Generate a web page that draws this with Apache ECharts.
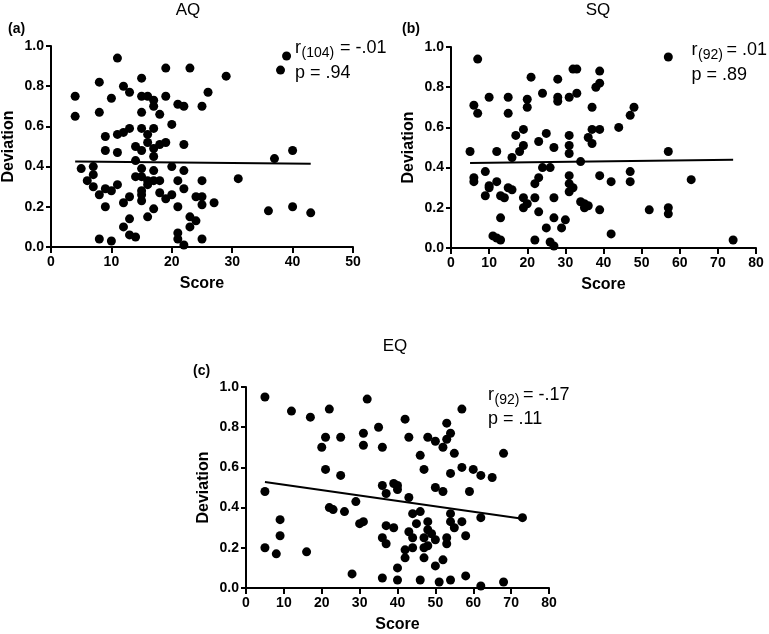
<!DOCTYPE html>
<html>
<head>
<meta charset="utf-8">
<script src="https://cdn.jsdelivr.net/npm/echarts/dist/echarts.min.js"></script>
<style>
html,body{margin:0;padding:0;background:#fff;}
#chart{width:769px;height:634px;}
</style>
</head>
<body>
<div id="chart"></div>
<script>
// ---- data ----
const aqPoints = [
[4,0.75],[4,0.65],[5,0.39],[6,0.33],[7,0.40],[7,0.36],[7,0.30],
[8,0.82],[8,0.67],[8,0.26],[8,0.04],[9,0.55],[9,0.48],[9,0.29],[9,0.20],
[10,0.74],[10,0.28],[10,0.03],[11,0.94],[11,0.56],[11,0.47],[11,0.31],
[12,0.80],[12,0.57],[12,0.22],[12,0.10],[13,0.77],[13,0.59],[13,0.25],[13,0.14],[13,0.06],
[14,0.50],[14,0.43],[14,0.35],[14,0.05],
[15,0.84],[15,0.75],[15,0.67],[15,0.59],[15,0.48],[15,0.39],[15,0.35],[15,0.28],[15,0.26],[15,0.23],
[16,0.75],[16,0.56],[16,0.52],[16,0.33],[16,0.31],[16,0.15],
[17,0.73],[17,0.70],[17,0.59],[17,0.49],[17,0.45],[17,0.38],[17,0.33],[17,0.19],
[18,0.66],[18,0.51],[18,0.33],[18,0.27],[19,0.89],[19,0.75],[19,0.52],[19,0.24],
[20,0.61],[20,0.40],[20,0.26],[21,0.71],[21,0.33],[21,0.20],[21,0.07],[21,0.04],
[22,0.70],[22,0.51],[22,0.38],[22,0.29],[22,0.01],[23,0.89],[23,0.15],[23,0.10],
[24,0.25],[24,0.13],[25,0.70],[25,0.33],[25,0.25],[25,0.21],[25,0.04],
[26,0.77],[27,0.22],[29,0.85],[31,0.34],[36,0.18],[37,0.44],[38,0.88],[39,0.95],
[40,0.48],[40,0.20],[43,0.17]
];
const sqPoints = [
[5,0.48],[6,0.71],[6,0.35],[6,0.33],[7,0.94],[7,0.67],[9,0.38],[9,0.26],
[10,0.75],[10,0.31],[10,0.30],[11,0.06],[12,0.48],[12,0.33],[12,0.05],
[13,0.04],[13,0.15],[13,0.26],[14,0.25],[15,0.75],[15,0.67],[15,0.30],
[16,0.45],[16,0.29],[17,0.56],[18,0.48],[19,0.59],[19,0.51],[19,0.25],[19,0.20],
[20,0.74],[20,0.70],[20,0.22],[21,0.85],[22,0.25],[22,0.32],[22,0.04],
[23,0.53],[23,0.35],[23,0.18],[24,0.77],[24,0.40],[25,0.57],[25,0.10],
[26,0.40],[26,0.03],[27,0.01],[27,0.50],[27,0.25],[27,0.15],
[28,0.84],[28,0.75],[28,0.73],[29,0.10],[30,0.14],
[31,0.75],[31,0.56],[31,0.51],[31,0.47],[31,0.36],[31,0.32],[31,0.28],
[32,0.89],[32,0.30],[33,0.89],[33,0.77],[34,0.43],[34,0.23],[35,0.22],[35,0.20],
[36,0.55],[36,0.21],[37,0.70],[37,0.59],[37,0.52],[38,0.80],
[39,0.88],[39,0.82],[39,0.59],[39,0.36],[39,0.19],[42,0.33],[42,0.07],[44,0.60],
[47,0.66],[47,0.38],[47,0.33],[48,0.70],[52,0.19],
[57,0.95],[57,0.48],[57,0.20],[57,0.17],[63,0.34],[74,0.04]
];
const eqPoints = [
[5,0.95],[5,0.48],[5,0.20],[8,0.17],[9,0.34],[9,0.26],[12,0.88],[16,0.18],[17,0.85],
[20,0.70],[21,0.75],[21,0.59],[22,0.89],[22,0.40],[23,0.39],[25,0.75],[25,0.56],[26,0.38],
[28,0.07],[29,0.43],[30,0.32],[31,0.77],[31,0.71],[31,0.33],[32,0.94],[35,0.80],
[36,0.70],[36,0.51],[36,0.25],[36,0.05],[37,0.47],[37,0.31],[37,0.22],
[39,0.52],[39,0.30],[40,0.51],[40,0.49],[40,0.10],[40,0.04],
[42,0.84],[42,0.19],[42,0.15],[43,0.75],[43,0.45],[43,0.28],[44,0.37],[44,0.25],[44,0.20],
[45,0.32],[46,0.66],[46,0.38],[46,0.04],[47,0.59],[47,0.25],[47,0.20],[47,0.15],
[48,0.75],[48,0.33],[48,0.29],[48,0.21],[49,0.27],[50,0.73],[50,0.50],[50,0.24],[50,0.11],
[51,0.03],[52,0.70],[52,0.48],[52,0.14],[53,0.82],[53,0.74],[53,0.25],[53,0.22],
[54,0.77],[54,0.57],[54,0.37],[54,0.33],[54,0.04],[55,0.67],[55,0.30],
[57,0.89],[57,0.60],[57,0.33],[58,0.26],[58,0.06],[59,0.48],[60,0.59],
[62,0.56],[62,0.35],[62,0.01],[65,0.55],[68,0.67],[68,0.03],[73,0.35]
];
// fitted lines (end points)
const aqFit = [[4,0.425],[43,0.414]];
const sqFit = [[5,0.423],[74,0.439]];
const eqFit = [[5,0.527],[73,0.345]];
// axis ranges / ticks
const aqXMax = 50, sqXMax = 80, eqXMax = 80, xStep = 10;
const yMin = 0, yMax = 1, yStep = 0.2;
const panelTitles = ['AQ','SQ','EQ'];
const panelTags = ['(a)','(b)','(c)'];

const FONT = "'Liberation Sans', Arial, Helvetica, sans-serif";
const chart = echarts.init(document.getElementById('chart'), null, {renderer:'canvas'});

const grids = [
  {left:51, top:46, width:302, height:201},
  {left:451, top:47, width:305, height:201},
  {left:246, top:387, width:303, height:202}
];
const xMaxes = [aqXMax, sqXMax, eqXMax];

function xAxisFor(i){
  return {
    type:'value', gridIndex:i, min:0, max:xMaxes[i], interval:xStep,
    name:'Score', nameLocation:'middle', nameGap:29,
    nameTextStyle:{fontFamily:FONT, fontWeight:'bold', fontSize:16, color:'#000'},
    axisLine:{show:true, onZero:false, lineStyle:{color:'#000', width:2}},
    axisTick:{show:true, inside:false, length:6, lineStyle:{color:'#000', width:2}},
    axisLabel:{fontFamily:FONT, fontWeight:'bold', fontSize:14, color:'#000', margin:8},
    splitLine:{show:false}
  };
}
function yAxisFor(i){
  return {
    type:'value', gridIndex:i, min:yMin, max:yMax, interval:yStep,
    name:'Deviation', nameLocation:'middle', nameGap:34, nameRotate:90,
    nameTextStyle:{fontFamily:FONT, fontWeight:'bold', fontSize:16, color:'#000'},
    axisLine:{show:true, onZero:false, lineStyle:{color:'#000', width:2}},
    axisTick:{show:true, inside:false, length:5, lineStyle:{color:'#000', width:2}},
    axisLabel:{fontFamily:FONT, fontWeight:'bold', fontSize:14, color:'#000', margin:7,
      formatter:v=>v.toFixed(1)},
    splitLine:{show:false}
  };
}
function scatter(i, pts){
  return {type:'scatter', xAxisIndex:i, yAxisIndex:i, data:pts, symbol:'circle', symbolSize:9,
    itemStyle:{color:'#000', opacity:1}, silent:true, z:3};
}
function fit(i, pts){
  return {type:'line', xAxisIndex:i, yAxisIndex:i, data:pts, symbol:'none',
    lineStyle:{color:'#000', width:2}, silent:true, z:4};
}
function txt(text, x, y, size, opts){
  opts = opts || {};
  const font = (opts.bold?'bold ':'') + size + 'px ' + FONT;
  return {type:'text', x:x, y:y, silent:true, z:10,
    style:{text:text, font:font, fill:'#000',
      textAlign:opts.align||'left', textVerticalAlign:'middle',
      align:opts.align||'left', verticalAlign:'middle'}};
}

const graphics = [
  txt(panelTitles[0], 188, 10.5, 17, {align:'center'}),
  txt(panelTitles[1], 598, 10.5, 17, {align:'center'}),
  txt(panelTitles[2], 395, 346, 17, {align:'center'}),
  txt(panelTags[0], 8, 29, 14, {bold:true}),
  txt(panelTags[1], 402, 29, 14, {bold:true}),
  txt(panelTags[2], 193, 371, 14, {bold:true}),
  // panel a stats
  txt('r', 295, 48, 18), txt('(104)', 301.5, 53, 14), txt('= -.01', 340, 48, 18),
  txt('p = .94', 295, 73, 18),
  // panel b stats
  txt('r', 691.5, 50, 18), txt('(92)', 698, 55, 14), txt('= .01', 726.5, 50, 18),
  txt('p = .89', 691.5, 75, 18),
  // panel c stats
  txt('r', 488, 395, 18), txt('(92)', 494.5, 400, 14), txt('= -.17', 523, 395, 18),
  txt('p = .11', 488, 419, 18)
];

chart.setOption({
  animation:false,
  backgroundColor:'#fff',
  grid:grids,
  xAxis:[xAxisFor(0), xAxisFor(1), xAxisFor(2)],
  yAxis:[yAxisFor(0), yAxisFor(1), yAxisFor(2)],
  series:[
    scatter(0, aqPoints), fit(0, aqFit),
    scatter(1, sqPoints), fit(1, sqFit),
    scatter(2, eqPoints), fit(2, eqFit)
  ],
  graphic:graphics
});
</script>
</body>
</html>
